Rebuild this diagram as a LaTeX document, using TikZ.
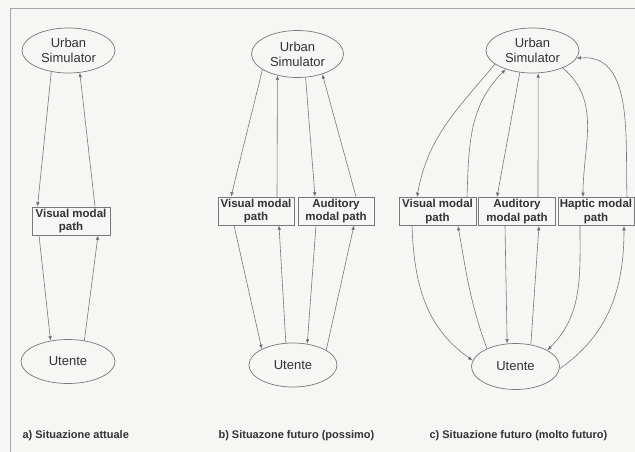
\documentclass[tikz,border=0pt]{standalone}
\usepackage{fontspec}
\setmainfont{Liberation Sans}
\usetikzlibrary{shapes.geometric,arrows.meta}
\definecolor{bg}{RGB}{246,246,244}
\definecolor{ln}{RGB}{120,120,120}
\definecolor{hd}{RGB}{80,80,80}
\definecolor{frm}{RGB}{165,165,165}
\definecolor{tx}{RGB}{50,50,55}
\begin{document}
\begin{tikzpicture}[x=1pt,y=-1pt,
  ell/.style={ellipse,draw=ln,line width=0.7pt,inner sep=0pt,minimum width=93pt,minimum height=45pt,align=center,font=\fontsize{13}{15}\selectfont,text=tx},
  mbox/.style={rectangle,draw=ln,line width=0.7pt,inner sep=0pt,minimum width=76pt,minimum height=28pt,align=center,font=\bfseries\fontsize{11.5}{13.5}\selectfont,text=tx},
  conn/.style={draw=ln,line width=0.6pt,-{Latex[length=4.5pt,width=3.6pt,fill=hd]}},
  captxt/.style={anchor=west,font=\bfseries\fontsize{11}{13}\selectfont,text=tx}]
\useasboundingbox (0,0) rectangle (635,452);
\fill[bg] (0,0) rectangle (635,452);
\draw[frm,line width=0.8pt] (10,452) -- (10,8) -- (635,8);

% panel a
\node[ell] (USa) at (68.5,50.5) {Urban\\Simulator};
\node[mbox,minimum width=78pt] (Ba) at (71,221) {Visual modal\\path};
\node[ell,minimum width=94pt,minimum height=44pt] (Ua) at (68,361.5) {Utente};
\draw[conn] (USa.231) -- ([xshift=-33.5pt]Ba.north);
\draw[conn] ([xshift=24pt]Ba.north) -- (USa.297);
\draw[conn] ([xshift=-32pt]Ba.south) -- (Ua.130);
\draw[conn] (Ua.52) -- ([xshift=27pt]Ba.south);

% panel b
\node[ell,minimum width=92pt,minimum height=47pt] (USb) at (297.5,54) {Urban\\Simulator};
\node[mbox] (VBb) at (256,211) {Visual modal\\path};
\node[mbox] (ABb) at (336,211) {Auditory\\modal path};
\node[ell,minimum width=88pt,minimum height=44pt] (Ub) at (293,365) {Utente};
\draw[conn] (USb.204) -- ([xshift=-25pt]VBb.north);
\draw[conn] ([xshift=21pt]VBb.north) -- (USb.227);
\draw[conn] (USb.289) -- ([xshift=-21pt]ABb.north);
\draw[conn] ([xshift=20pt]ABb.north) -- (USb.321);
\draw[conn] ([xshift=-22pt]VBb.south) -- (Ub.153);
\draw[conn] (Ub.108) -- ([xshift=23pt]VBb.south);
\draw[conn] ([xshift=-20pt]ABb.south) -- (Ub.56);
\draw[conn] (Ub.24) -- ([xshift=18pt]ABb.south);

% panel c
\node[ell] (USc) at (532.5,50.5) {Urban\\Simulator};
\node[mbox,minimum width=77pt] (VBc) at (437.5,211.5) {Visual modal\\path};
\node[mbox,minimum width=77pt] (ABc) at (517,211.5) {Auditory\\modal path};
\node[mbox,minimum width=76pt] (HBc) at (596,211.5) {Haptic modal\\path};
\node[ell,minimum width=88pt,minimum height=46pt] (Uc) at (515.5,366.5) {Utente};
\draw[conn] (USc.200) to[out=230,in=80] ([xshift=-20.5pt]VBc.north);
\draw[conn] ([xshift=29.5pt]VBc.north) to[out=88,in=225] (USc.215);
\draw[conn] (USc.240) -- ([xshift=-20pt]ABc.north);
\draw[conn] ([xshift=21pt]ABc.north) -- (USc.284);
\draw[conn] (USc.330) to[out=-40,in=90] ([xshift=-13pt]HBc.north);
\draw[conn] ([xshift=31pt]HBc.north) to[out=92,in=5] (USc.350);
\draw[conn] ([xshift=-25.5pt]VBc.south) to[out=-88,in=145] (Uc.172);
\draw[conn] (Uc.148) to[out=110,in=-80] ([xshift=20.5pt]VBc.south);
\draw[conn] ([xshift=-12pt]ABc.south) -- (Uc.110);
\draw[conn] (Uc.55) -- ([xshift=22pt]ABc.south);
\draw[conn] ([xshift=-16pt]HBc.south) to[out=-90,in=45] (Uc.27);
\draw[conn] (Uc.-3) to[out=35,in=-90] ([xshift=28pt]HBc.south);

% captions
\node[captxt] (ca) at (19,436) {a) Situazione attuale};
\node[captxt] (cb) at (215,436) {b) Situazone futuro (possimo)};
\node[captxt] (cc) at (426,436) {c) Situazione futuro (molto futuro)};
\end{tikzpicture}
\end{document}
